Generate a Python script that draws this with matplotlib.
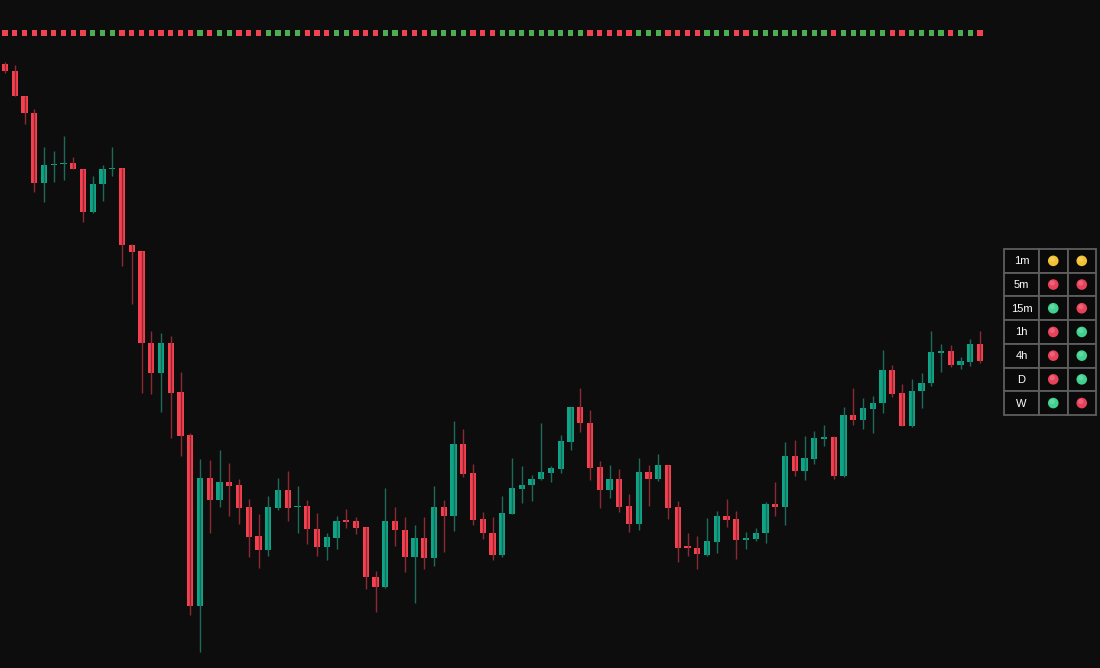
import numpy as np
import matplotlib
matplotlib.use("Agg")
import matplotlib.pyplot as plt
from matplotlib.patches import Rectangle, Circle

# %% datos de las velas (unidades de precio arbitrarias)
opens = [604, 597, 572, 555, 485, 503, 504, 505, 499, 456, 484, 499, 500, 423, 417, 325, 295, 325, 276, 233,
         62, 190, 168, 186, 183, 161, 132, 118, 160, 178, 161, 162, 139, 121, 130, 147, 147, 141, 91, 81,
         147, 138, 111, 130, 110, 161, 152, 224, 195, 149, 135, 113, 154, 179, 183, 189, 195, 199, 226, 261,
         245, 201, 178, 189, 162, 144, 196, 189, 203, 161, 121, 120, 113, 126, 152, 149, 129, 129, 135, 164,
         161, 212, 197, 209, 230, 231, 192, 253, 248, 259, 265, 298, 275, 242, 277, 285, 316, 317, 303, 306, 324]
highs = [606, 603, 572, 559, 521, 517, 532, 511, 499, 492, 503, 521, 500, 424, 417, 337, 335, 332, 296, 235,
         209, 208, 218, 205, 189, 169, 154, 172, 190, 197, 182, 168, 155, 135, 152, 159, 151, 141, 97, 180,
         161, 151, 143, 151, 182, 168, 247, 239, 204, 156, 151, 172, 210, 202, 193, 245, 202, 233, 261, 280,
         258, 207, 203, 199, 174, 210, 203, 214, 203, 167, 135, 132, 150, 157, 169, 157, 136, 140, 166, 186,
         226, 228, 232, 237, 243, 232, 261, 280, 270, 272, 318, 303, 284, 289, 295, 337, 324, 323, 311, 329, 337]
lows = [595, 572, 544, 476, 466, 486, 488, 499, 446, 455, 467, 492, 402, 364, 275, 274, 256, 230, 212, 53,
        16, 135, 161, 152, 144, 111, 100, 112, 158, 147, 135, 124, 112, 108, 119, 140, 134, 79, 56, 80,
        122, 96, 65, 99, 102, 116, 137, 191, 143, 129, 108, 111, 154, 165, 167, 188, 186, 195, 218, 236,
        188, 160, 170, 156, 136, 138, 162, 187, 149, 106, 112, 99, 112, 115, 141, 109, 119, 127, 125, 152,
        143, 192, 188, 204, 222, 189, 191, 243, 239, 235, 255, 271, 242, 241, 260, 282, 296, 301, 299, 302, 305]
closes = [597, 572, 555, 485, 503, 504, 505, 499, 456, 484, 499, 500, 423, 416, 325, 295, 325, 275, 232, 62,
          190, 168, 186, 182, 160, 131, 118, 161, 178, 160, 162, 139, 121, 131, 147, 146.5, 140, 91, 81, 147,
          138, 111, 130, 110, 161, 152, 224, 194, 148, 135, 113, 155, 180, 183, 189, 196, 200, 227, 261, 245,
          200, 178, 189, 161, 144, 196, 189, 203, 160, 120, 120.5, 114, 127, 152, 148, 128, 129.5, 135, 164, 161,
          212, 197, 210, 230, 230.5, 192, 253, 248, 260, 265, 298, 274, 242, 277, 285, 316, 316.5, 303, 307, 324, 307]

# fila de puntos superior: 1 = verde, 0 = rojo
senal = [0, 0, 0, 0, 0, 0, 0, 0, 0, 1, 1, 1, 0, 0, 0, 0, 0, 0, 0, 0, 1, 0, 1, 1, 0, 0, 0, 1, 1, 1, 1, 0, 0, 0, 1, 1, 0, 0,
         0, 1, 1, 0, 0, 0, 1, 1, 1, 1, 0, 0, 0, 1, 1, 1, 1, 1, 1, 1, 1, 1, 0, 0, 0, 0, 0, 1, 1, 1, 0, 0, 0, 0, 1, 1, 1, 0,
         0, 1, 1, 1, 1, 1, 1, 1, 1, 0, 1, 1, 1, 1, 1, 0, 0, 1, 1, 1, 1, 0, 1, 1, 0]

# tabla de marcos temporales
marcos = ['1m', '5m', '15m', '1h', '4h', 'D', 'W']
col_a = ['y', 'r', 'g', 'r', 'r', 'r', 'g']
col_b = ['y', 'r', 'r', 'g', 'g', 'g', 'r']

fondo = '#0e0d0d'
rojo = '#f7404f'
verde = '#0ea487'
rojo_mecha = '#8c2a33'
verde_mecha = '#1d6a58'
colores_tabla = {'y': '#f2c232', 'r': '#e8415a', 'g': '#40d08f'}

# %% figura
fig = plt.figure(figsize=(11, 6.68), dpi=100, facecolor=fondo)
ax = fig.add_axes([0, 0, 1, 1])
ax.set_facecolor(fondo)

o = np.array(opens, float)
h = np.array(highs, float)
l = np.array(lows, float)
c = np.array(closes, float)
x = np.arange(len(o))
sube = c >= o

ax.vlines(x[sube], l[sube], h[sube], color=verde_mecha, linewidth=1)
ax.vlines(x[~sube], l[~sube], h[~sube], color=rojo_mecha, linewidth=1)

cuerpo = np.maximum(np.abs(c - o), 1.6)
base = np.minimum(o, c)
base = np.where(np.abs(c - o) < 1.6, (o + c) / 2 - 0.8, base)
ax.bar(x[sube], cuerpo[sube], bottom=base[sube], width=0.66, color=verde, linewidth=0)
ax.bar(x[~sube], cuerpo[~sube], bottom=base[~sube], width=0.66, color=rojo, linewidth=0)

# puntos superiores
xs = np.arange(len(senal))
cols = ['#4cae50' if s else '#ef4352' for s in senal]
ax.scatter(xs, np.full(len(senal), 635), marker='s', s=14, c=cols, linewidths=0)

ax.set_xlim(-5 / 9.75, 1095 / 9.75)
ax.set_ylim(0, 668)
ax.axis('off')

# %% tabla (coordenadas en pixeles)
at = fig.add_axes([0, 0, 1, 1])
at.set_xlim(0, 1100)
at.set_ylim(668, 0)
at.axis('off')
at.patch.set_alpha(0)

bordes = [1004, 1039, 1067.5, 1096]
arriba = 249
alto = 23.7
for r, nombre in enumerate(marcos):
    y0 = arriba + r * alto
    for k in range(3):
        at.add_patch(Rectangle((bordes[k], y0), bordes[k + 1] - bordes[k], alto,
                               facecolor='#0a0a0a', edgecolor='#5e5e5e', linewidth=1.3))
    yc = y0 + alto / 2
    at.text((bordes[0] + bordes[1]) / 2, yc + 0.5, nombre, color='white', fontsize=8,
            family='Liberation Sans', ha='center', va='center')
    for k, lista in enumerate([col_a, col_b]):
        xc = (bordes[k + 1] + bordes[k + 2]) / 2
        at.add_patch(Circle((xc, yc), 5.3, facecolor=colores_tabla[lista[r]], edgecolor='none'))
        at.add_patch(Circle((xc - 1, yc - 1.5), 2.6, facecolor='white', alpha=0.18, edgecolor='none'))

fig.savefig('out.png', dpi=100, facecolor=fondo)
